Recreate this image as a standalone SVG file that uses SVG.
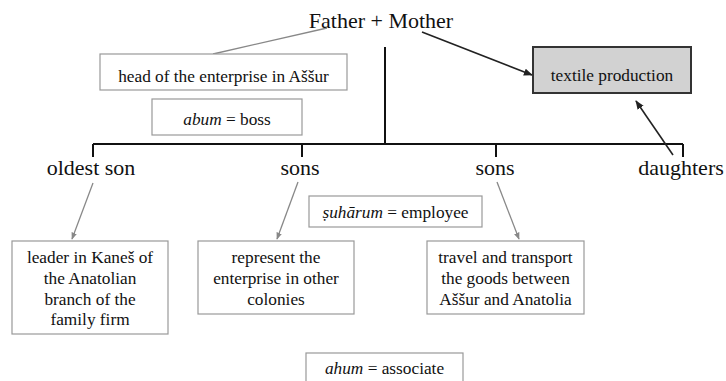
<svg xmlns="http://www.w3.org/2000/svg" width="726" height="381" viewBox="0 0 726 381">
<defs>
<style>
.box{fill:#fff;stroke:#999;stroke-width:1.2}
.tree{stroke:#111;stroke-width:2;fill:none}
.gl{stroke:#888;stroke-width:1.3;fill:none}
.dl{stroke:#222;stroke-width:1.6;fill:none}
</style>
<marker id="ag" viewBox="0 0 10 10" refX="9" refY="5" markerWidth="7" markerHeight="7" orient="auto" markerUnits="userSpaceOnUse"><path d="M0,1 L10,5 L0,9 z" fill="#888"/></marker>
<marker id="ad" viewBox="0 0 10 10" refX="9" refY="5" markerWidth="9" markerHeight="9" orient="auto" markerUnits="userSpaceOnUse"><path d="M0,1 L10,5 L0,9 z" fill="#222"/></marker>
</defs>
<rect width="726" height="381" fill="#fff"/>
<g id="connectors">
<path class="tree" d="M385,47 V144 M93,144 H683 M93,144 V157 M302,144 V157 M496,144 V157 M683,144 V157"/>
<path class="gl" d="M327,28 L213,54"/>
<path class="dl" d="M422,32 L532,75" marker-end="url(#ad)"/>
<path class="dl" d="M673,155 L636,101" marker-end="url(#ad)"/>
<path class="gl" d="M93,183 L72,239" marker-end="url(#ag)"/>
<path class="gl" d="M298,182 L277,239" marker-end="url(#ag)"/>
<path class="gl" d="M497,182 L519,239" marker-end="url(#ag)"/>
</g>
<g id="parents"><text font-family="'Liberation Serif', 'Noto Sans CJK SC', serif" font-size="22" fill="#111" text-anchor="middle" x="381" y="28">Father + Mother</text></g>
<g id="head"><rect class="box" x="100" y="54" width="247" height="36"/><text font-family="'Liberation Serif', 'Noto Sans CJK SC', serif" font-size="17.3" fill="#111" text-anchor="middle" x="223.5" y="82">head of the enterprise in Aššur</text></g>
<g id="abum"><rect class="box" x="152" y="99" width="150" height="36"/><text font-family="'Liberation Serif', 'Noto Sans CJK SC', serif" font-size="17.3" fill="#111" text-anchor="middle" x="227" y="125"><tspan font-style="italic">abum</tspan> = boss</text></g>
<g id="textile"><rect x="533" y="47" width="158" height="46" fill="#d2d2d2" stroke="#333" stroke-width="2"/><text font-family="'Liberation Serif', 'Noto Sans CJK SC', serif" font-size="17.3" fill="#111" text-anchor="middle" x="612" y="81">textile production</text></g>
<g id="oldest"><text font-family="'Liberation Serif', 'Noto Sans CJK SC', serif" font-size="22" fill="#111" text-anchor="middle" x="91" y="175">oldest son</text></g>
<g id="sons1"><text font-family="'Liberation Serif', 'Noto Sans CJK SC', serif" font-size="22" fill="#111" text-anchor="middle" x="300" y="175">sons</text></g>
<g id="sons2"><text font-family="'Liberation Serif', 'Noto Sans CJK SC', serif" font-size="22" fill="#111" text-anchor="middle" x="495" y="175">sons</text></g>
<g id="daughters"><text font-family="'Liberation Serif', 'Noto Sans CJK SC', serif" font-size="22" fill="#111" text-anchor="middle" x="681" y="175">daughters</text></g>
<g id="leader"><rect class="box" x="12" y="241" width="156" height="93"/><text font-family="'Liberation Serif', 'Noto Sans CJK SC', serif" font-size="17.3" fill="#111" text-anchor="middle" x="90" y="263">leader in Kaneš of<tspan x="90" dy="20.8">the Anatolian</tspan><tspan x="90" dy="20.8">branch of the</tspan><tspan x="90" dy="20.8">family firm</tspan></text></g>
<g id="represent"><rect class="box" x="198" y="241" width="156" height="73"/><text font-family="'Liberation Serif', 'Noto Sans CJK SC', serif" font-size="17.3" fill="#111" text-anchor="middle" x="276" y="263">represent the<tspan x="276" dy="20.8">enterprise in other</tspan><tspan x="276" dy="20.8">colonies</tspan></text></g>
<g id="suharum"><rect class="box" x="309" y="196" width="173" height="31"/><text font-family="'Liberation Serif', 'Noto Sans CJK SC', serif" font-size="17.3" fill="#111" text-anchor="middle" x="395.5" y="218"><tspan font-style="italic">ṣuhārum</tspan> = employee</text></g>
<g id="travel"><rect class="box" x="427" y="241" width="157" height="73"/><text font-family="'Liberation Serif', 'Noto Sans CJK SC', serif" font-size="17.3" fill="#111" text-anchor="middle" x="505.5" y="263">travel and transport<tspan x="505.5" dy="20.8">the goods between</tspan><tspan x="505.5" dy="20.8">Aššur and Anatolia</tspan></text></g>
<g id="ahum"><rect class="box" x="306" y="353" width="157" height="40"/><text font-family="'Liberation Serif', 'Noto Sans CJK SC', serif" font-size="17.3" fill="#111" text-anchor="middle" x="384.5" y="374"><tspan font-style="italic">ahum</tspan> = associate</text></g>
</svg>
